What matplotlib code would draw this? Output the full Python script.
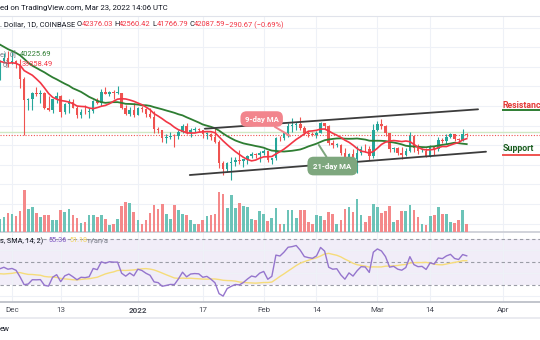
import numpy as np
import pandas as pd
import matplotlib
matplotlib.use("Agg")
import matplotlib.pyplot as plt
import matplotlib.dates as mdates

plt.rcParams['font.family'] = ['Roboto', 'DejaVu Sans']

# ---------------- data ----------------
# closes before the visible window (used only to warm up the MAs / RSI)
warmup_start = "2021-10-15"
warmup_closes = [61500, 60850, 61500, 62000, 64300, 66000, 62200, 60700, 61300, 60850, 63100, 60300,
                 58450, 60600, 62250, 61850, 61300,
                 60900, 63200, 62950, 61450, 61000, 61500, 63300, 67550, 66950, 64950, 64850, 64150,
                 64400, 65500, 63600, 60150, 60350, 56900, 58100, 59700, 58700, 56300, 57600, 57150,
                 58950, 53700, 54750]

# visible daily candles, 2021-11-28 .. 2022-03-23
start = "2021-11-28"
opens = [54750, 57270, 57810,
         56990, 57230, 56510, 53600, 49200, 49400, 50600, 50550, 50600, 47600, 47150, 49400, 50100, 46700,
         48350, 48880, 47650, 46200, 46850, 46700, 46900, 49000, 48600, 50800, 50400, 50800, 50700, 50700,
         47500, 46450, 47150,
         46200, 47700, 47300, 46440, 45800, 43400, 43100, 41550, 41700, 41870, 41820, 42740, 43920, 42590,
         43100, 43180, 43110, 42250, 42380, 41680, 40700, 36450, 35050, 36280, 36660, 36960, 36820, 37180,
         37710, 38170, 37920,
         38480, 38740, 36900, 37330, 41570, 41380, 42410, 43840, 44040, 44370, 43570, 42400, 42200, 42070,
         42560, 44580, 43970, 40540, 40000, 40100, 38400, 37030, 38250, 37260, 38340, 39230, 39140, 37710,
         43180, 44420, 43920, 42460, 39150, 39400, 38420, 38060, 38740, 41980, 39440, 38730, 38810, 37790,
         39670, 39280, 41120, 40930, 41770, 42250, 41260, 41000, 42376]
highs = [57400, 58870, 59180,
         59060, 57400, 57600, 53870, 49700, 50900, 51950, 51200, 50800, 50100, 49500, 50800, 50200, 48700,
         49500, 49400, 48000, 47300, 48300, 47500, 49300, 49600, 51400, 51850, 51150, 51250, 52050, 50700,
         48150, 47900, 48550,
         47900, 47950, 47550, 47500, 47050, 43750, 43150, 42300, 42800, 42250, 43100, 44300, 44450, 43450,
         43800, 43500, 43200, 42700, 42580, 43500, 41100, 36850, 36550, 37550, 37550, 38950, 37250, 38000,
         38700, 38350, 38750,
         39250, 38850, 37400, 41750, 41950, 42650, 44500, 45500, 44800, 45800, 43900, 43000, 42750, 42850,
         44750, 44600, 44200, 40980, 40450, 40150, 39500, 38450, 39300, 39850, 39750, 40300, 39850, 44250,
         44950, 45400, 44100, 42550, 39700, 39650, 39600, 39400, 42600, 42050, 40250, 39500, 39350, 39950,
         39900, 41700, 41500, 42350, 42400, 42300, 41550, 43350, 42560]
lows = [53300, 56700, 55880,
        56500, 55850, 51700, 42000, 47100, 47100, 50050, 48600, 47350, 46900, 46650, 48700, 45700, 46300,
        46550, 47550, 45500, 45550, 46400, 45600, 46650, 48450, 48100, 50450, 50000, 49450, 50450, 47350,
        46100, 45950, 45700,
        46200, 46700, 45700, 45500, 42500, 42450, 40600, 40500, 41200, 39650, 41300, 42450, 42300, 41750,
        42600, 42600, 41550, 41250, 41150, 40550, 35450, 34000, 34600, 32950, 35750, 36250, 35550, 36200,
        37400, 37350, 36650,
        38000, 36600, 36250, 37050, 40950, 41150, 41650, 42650, 43150, 43200, 42000, 41750, 41850, 41550,
        42450, 43300, 40100, 39450, 39650, 38000, 36800, 36350, 37050, 34320, 38000, 38600, 37000, 37450,
        42850, 43350, 41850, 38650, 38600, 38100, 37150, 37900, 38700, 38550, 38250, 38650, 37600, 37600,
        38100, 38850, 40500, 40150, 41550, 40900, 40500, 40900, 41766]
closes = [57270, 57810, 56990,
          57230, 56510, 53600, 49200, 49400, 50600, 50550, 50600, 47600, 47150, 49400, 50100, 46700, 48350,
          48880, 47650, 46200, 46850, 46700, 46900, 49000, 48600, 50800, 50400, 50800, 50700, 50700, 47500,
          46450, 47150, 46200,
          47700, 47300, 46440, 45800, 43400, 43100, 41550, 41700, 41870, 41820, 42740, 43920, 42590, 43100,
          43180, 43110, 42250, 42380, 41680, 40700, 36450, 35050, 36280, 36660, 36960, 36820, 37180, 37710,
          38170, 37920, 38480,
          38740, 36900, 37330, 41570, 41380, 42410, 43840, 44040, 44370, 43570, 42400, 42200, 42070, 42560,
          44580, 43970, 40540, 40000, 40100, 38400, 37030, 38250, 37260, 38340, 39230, 39140, 37710, 43180,
          44420, 43920, 42460, 39150, 39400, 38420, 38060, 38740, 41980, 39440, 38730, 38810, 37790, 39670,
          39280, 41120, 40930, 41770, 42250, 41260, 41000, 42370, 42088]
volumes_k = [8.0, 9.0, 11.4,
             10.6, 9.4, 12.6, 25.2, 14.0, 15.0, 11.4, 9.0, 10.0, 10.0, 7.0, 7.0, 13.4, 12.0, 14.0, 10.0,
             8.6, 5.4, 6.0, 10.0, 10.0, 9.0, 10.0, 8.0, 4.0, 5.0, 8.0, 15.4, 18.0, 17.4, 12.0,
             7.4, 4.6, 7.0, 11.4, 16.0, 14.0, 16.6, 10.6, 8.0, 16.0, 13.0, 10.6, 10.0, 7.0, 4.6, 4.6,
             7.4, 9.4, 10.0, 11.0, 24.0, 23.0, 14.6, 22.0, 14.6, 17.4, 15.4, 15.0, 8.0, 7.4, 12.6,
             11.0, 6.6, 8.6, 14.6, 5.0, 4.6, 13.0, 13.0, 8.4, 13.0, 13.0, 6.0, 4.6, 10.0, 9.4, 7.0,
             12.0, 10.6, 4.6, 7.4, 13.6, 15.0, 12.0, 20.0, 10.0, 6.0, 9.6, 16.6,
             15.0, 11.4, 12.6, 15.4, 6.0, 7.4, 12.6, 12.6, 16.0, 13.4, 9.0, 5.0, 4.0, 9.4, 10.0, 15.0,
             11.0, 11.0, 6.0, 5.4, 7.0, 13.0, 4.6]

tick_dates = ["2021-12-01", "2021-12-13", "2022-01-01", "2022-01-17", "2022-02-01",
              "2022-02-14", "2022-03-01", "2022-03-14", "2022-04-01"]
tick_labels = ["Dec", "13", "2022", "17", "Feb", "14", "Mar", "14", "Apr"]

last_price = 42087.59
level_price = 42800
upper_trend = [("2022-01-17 12:00", 43370), ("2022-03-25 19:00", 47330)]
lower_trend = [("2022-01-13 19:00", 33920), ("2022-03-27 18:00", 38680)]
ma9_label = {"text_at": ("2022-01-31 12:00", 45350), "points_to": ("2022-02-07 12:00", 41900)}
ma21_label = {"text_at": ("2022-02-17 22:00", 35750), "points_to": ("2022-02-14 14:00", 40050)}
resistance_at = ("2022-03-31 22:00", 48200, 47090)   # text price, underline price
support_at = ("2022-03-31 22:00", 39430, 38000)

header_time = "ed on TradingView.com, Mar 23, 2022 14:06 UTC"
symbol_text = ". Dollar, 1D, COINBASE"
ohlc_items = [("O", "42376.03"), ("H", "42560.42"), ("L", "41766.79"), ("C", "42087.59")]
change_text = "\u2212290.67 (\u22120.69%)"
ma_legend_vals = ["40225.69", "39358.49"]
rsi_legend_vals = ["55.36", "51.18", "n/a", "n/a"]

# ---------------- derived series ----------------
all_close = pd.Series(warmup_closes + closes,
                      index=pd.date_range(warmup_start, periods=len(warmup_closes) + len(closes), freq="D"))
ma9 = all_close.rolling(9).mean()[start:]
ma21 = all_close.rolling(21).mean()[start:]
delta = all_close.diff()
gain = delta.clip(lower=0).ewm(alpha=1 / 14, adjust=False, min_periods=14).mean()
loss = (-delta.clip(upper=0)).ewm(alpha=1 / 14, adjust=False, min_periods=14).mean()
rsi_all = 100 - 100 / (1 + gain / loss)
rsi_sma = rsi_all.rolling(14).mean()[start:]
rsi = rsi_all[start:]

dates = pd.date_range(start, periods=len(closes), freq="D")
x = mdates.date2num(dates.to_pydatetime())
o, h, l, c = (np.array(v, float) for v in (opens, highs, lows, closes))
up = c >= o

def dn(s):
    return mdates.date2num(pd.Timestamp(s).to_pydatetime())

UP, DN = "#26a69a", "#ef5350"
UPV, DNV = "#6cc3b8", "#f4898a"
GRID = "#eef1f7"

# ---------------- figure ----------------
W, H = 540, 340
fig = plt.figure(figsize=(5.4, 3.4), dpi=100)
fig.patch.set_facecolor("white")

def rect(top, bottom):
    return [0, 1 - bottom / H, 1, (bottom - top) / H]

x0 = dn("2021-12-01")
xlim = (x0 - 2.956, x0 + 130.05)
ylim_price = (22290, 66375)
tick_x = [dn(t) for t in tick_dates]

gax = fig.add_axes(rect(16, 232))
vax = fig.add_axes(rect(16, 232))
pax = fig.add_axes(rect(16, 232))
rax = fig.add_axes(rect(233, 302))

for a in (gax, vax, pax, rax):
    a.set_xlim(*xlim)
    a.tick_params(length=0, labelleft=False, labelbottom=False)
    for s in a.spines.values():
        s.set_visible(False)
vax.patch.set_alpha(0)
pax.patch.set_alpha(0)

# grid
gax.set_ylim(*ylim_price)
gax.set_yticks(np.arange(24000, 66000, 4000))
gax.set_xticks(tick_x)
gax.grid(True, color=GRID, lw=0.8)
gax.spines["top"].set_visible(True)
gax.spines["top"].set_color("#e0e3eb")
gax.spines["bottom"].set_visible(True)
gax.spines["bottom"].set_color("#c9ccd4")
gax.spines["bottom"].set_linewidth(1.2)

# volume
vax.bar(x, volumes_k, width=0.66, color=np.where(up, UPV, DNV), linewidth=0)
vax.set_ylim(0, 129.6)
vax.set_yticks([])
vax.set_xticks([])

# price
pax.set_ylim(*ylim_price)
pax.set_yticks([])
pax.set_xticks([])
pax.axhline(level_price, color="#cfe8c4", lw=1.0, zorder=1)
pax.axhline(last_price, color=DN, lw=0.8, ls=(0, (1, 1.5)), zorder=1)
pax.vlines(x, l, h, colors=np.where(up, UP, DN), lw=0.8, zorder=3)
pax.bar(x, np.maximum(np.abs(c - o), 150), bottom=np.minimum(o, c), width=0.62,
        color=np.where(up, UP, DN), linewidth=0, zorder=4)
pax.plot(ma21.index.to_pydatetime(), ma21.values, color="#2e7d32", lw=1.3, zorder=5)
pax.plot(ma9.index.to_pydatetime(), ma9.values, color="#f23645", lw=1.2, zorder=5)

for (p1, p2) in (upper_trend, lower_trend):
    pax.plot([dn(p1[0]), dn(p2[0])], [p1[1], p2[1]], color="#3c3c3c", lw=1.3, zorder=6,
             solid_capstyle="round")

def pill(ax, text, spec, fc, pad):
    tx, ty = spec["text_at"]
    px, py = spec["points_to"]
    ax.annotate(text, xy=(dn(px), py), xytext=(dn(tx), ty), textcoords="data",
                ha="center", va="center", color="white", fontsize=5.6, fontweight="bold",
                bbox=dict(boxstyle=f"round,pad={pad},rounding_size=0.8", fc=fc, ec="none"),
                arrowprops=dict(arrowstyle="-", color=fc, lw=1.4, shrinkA=0, shrinkB=0),
                zorder=7)

pill(pax, "9-day MA", ma9_label, "#f2858d", 0.55)
pill(pax, "21-day MA", ma21_label, "#7ea77e", 0.75)

# resistance / support
rx = dn(resistance_at[0])
pax.text(rx, resistance_at[1], "Resistance", color="#e53935", fontsize=6.3, fontweight="bold",
         va="center", ha="left", zorder=7)
pax.plot([rx, xlim[1] + 5], [resistance_at[2]] * 2, color="#2e7d32", lw=1.4, zorder=7, clip_on=True)
sx = dn(support_at[0])
pax.text(sx, support_at[1], "Support", color="#1b5e20", fontsize=6.3, fontweight="bold",
         va="center", ha="left", zorder=7)
pax.plot([sx, xlim[1] + 5], [support_at[2]] * 2, color="#ef5350", lw=1.4, zorder=7, clip_on=True)

# RSI pane
rax.set_ylim(15.2, 75.2)
rax.set_yticks([20, 40, 60])
rax.set_xticks(tick_x)
rax.grid(True, color=GRID, lw=0.8)
rax.axhspan(30, 70, color="#7e57c2", alpha=0.1, lw=0)
for lvl in (30, 50, 70):
    rax.axhline(lvl, color="#9a9ca6", lw=0.8, ls=(0, (3, 2.5)))
rax.plot(rsi_sma.index.to_pydatetime(), rsi_sma.values, color="#f6dc7a", lw=1.0)
rax.plot(rsi.index.to_pydatetime(), rsi.values, color="#9575cd", lw=1.0)
rax.spines["bottom"].set_visible(True)
rax.spines["bottom"].set_color("#b8bbc4")
rax.spines["bottom"].set_linewidth(1.2)
rax.tick_params(labelbottom=True, pad=3.5, labelsize=5.8, labelcolor="#4a4d57")
rax.set_xticklabels(tick_labels)
for t in rax.get_xticklabels():
    if t.get_text() == "2022":
        t.set_fontweight("bold")

# ---------------- texts ----------------
def ftext(px, py, s, **kw):
    kw.setdefault("fontsize", 5.4)
    kw.setdefault("va", "center")
    kw.setdefault("ha", "left")
    fig.text(px / W, 1 - py / H, s, **kw)

ftext(0, 8, header_time, color="#131722", fontsize=5.6)
fig.add_artist(plt.Line2D([0, 1], [1 - 318 / H] * 2, color="#e6e8ee", lw=1.2))
ftext(0, 329, "ew", color="#131722", fontsize=5.6)

ftext(0, 25, symbol_text, color="#131722")
for (lab, val), px in zip(ohlc_items, [77, 114, 152, 189]):
    ftext(px, 25, lab, color="#131722")
    ftext(px + 4.6, 25, val, color="#f23645")
ftext(225, 25, change_text, color="#f23645")

ftext(0, 55, "e)  0]", color="#787b86", fontsize=5.2)
ftext(20, 55, ma_legend_vals[0], color="#2e7d32", fontsize=5.4)
ftext(3, 65, "0]", color="#787b86", fontsize=5.2)
ftext(22, 65, ma_legend_vals[1], color="#f23645", fontsize=5.4)

ftext(0, 241, "s, SMA, 14, 2)", color="#131722", fontsize=5.2)
for val, px, col in zip(rsi_legend_vals, [48, 69, 87, 98], ["#7e57c2", "#f2d45c", "#787b86", "#787b86"]):
    ftext(px, 241, val, color=col, fontsize=5.2)

fig.savefig("out.png", dpi=100, facecolor="white")
